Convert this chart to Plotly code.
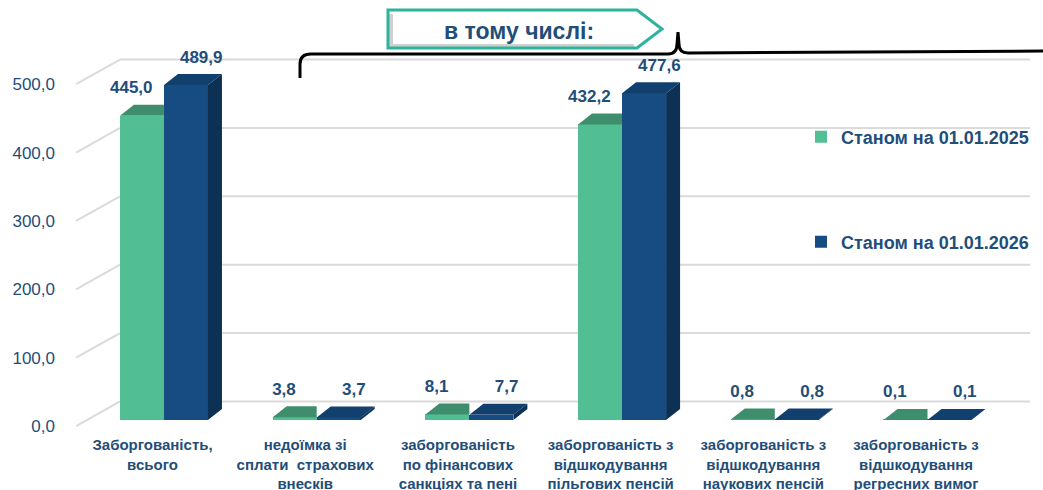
import plotly.graph_objects as go

# ---------------- data ----------------
categories = [
    "Заборгованість,<br>всього",
    "недоїмка зі<br>сплати  страхових<br>внесків",
    "заборгованість<br>по фінансових<br>санкціях та пені",
    "заборгованість з<br>відшкодування<br>пільгових пенсій",
    "заборгованість з<br>відшкодування<br>наукових пенсій",
    "заборгованість з<br>відшкодування<br>регресних вимог",
]
series_names = ["Станом на 01.01.2025", "Станом на 01.01.2026"]
values_2025 = [445.0, 3.8, 8.1, 432.2, 0.8, 0.1]
values_2026 = [489.9, 3.7, 7.7, 477.6, 0.8, 0.1]
y_ticks = [0, 100, 200, 300, 400, 500]
y_tick_labels = ["0,0", "100,0", "200,0", "300,0", "400,0", "500,0"]
banner_text = "в тому числі:"

# ---------------- style / geometry ----------------
W, H = 1043, 490
PL, PR, PT, PB = 76, 1035, 37, 435          # plot area in pixels
XR = [-0.576, 5.704]
YR = [-22, 560]
GREEN, GREEN_TOP = "#52BE93", "#3E8D6D"
BLUE, BLUE_TOP, BLUE_SIDE = "#174C82", "#12406E", "#0D3055"
TXT = "#1F4E79"
FONT = "Liberation Sans, Arial, sans-serif"

ux = (PR - PL) / (XR[1] - XR[0])   # px per x unit
uy = (PB - PT) / (YR[1] - YR[0])   # px per y unit
BW = 44 / ux                        # bar width
DX = 14 / ux                        # depth offset x
DY = 11 / uy                        # depth offset y


def xp(px):
    return (px - PL) / (PR - PL)


def yp(py):
    return (PB - py) / (PB - PT)


def fmt(v):
    return f"{v:.1f}".replace(".", ",")


idx = list(range(len(categories)))
fig = go.Figure()

# front faces
fig.add_trace(go.Bar(
    x=[i - BW / 2 for i in idx], y=values_2025, width=BW,
    marker=dict(color=GREEN, line=dict(width=0)),
    name=series_names[0], legend="legend", hoverinfo="skip"))
fig.add_trace(go.Bar(
    x=[i + BW / 2 for i in idx], y=values_2026, width=BW,
    marker=dict(color=BLUE, line=dict(width=0)),
    name=series_names[1], legend="legend2", hoverinfo="skip"))

# 3D faces
for i, (g, b) in enumerate(zip(values_2025, values_2026)):
    x0g, x1g = i - BW, i
    x0b, x1b = i, i + BW
    # green top (right part hidden behind blue)
    fig.add_trace(go.Scatter(
        x=[x0g, x1g, x1g, x0g + DX, x0g], y=[g, g, g + DY, g + DY, g],
        fill="toself", fillcolor=GREEN_TOP, mode="lines", line=dict(width=0),
        showlegend=False, hoverinfo="skip"))
    # blue top
    fig.add_trace(go.Scatter(
        x=[x0b, x1b, x1b + DX, x0b + DX, x0b], y=[b, b, b + DY, b + DY, b],
        fill="toself", fillcolor=BLUE_TOP, mode="lines", line=dict(width=0),
        showlegend=False, hoverinfo="skip"))
    # blue side
    fig.add_trace(go.Scatter(
        x=[x1b, x1b, x1b + DX, x1b + DX, x1b], y=[0, b, b + DY, DY, 0],
        fill="toself", fillcolor=BLUE_SIDE, mode="lines", line=dict(width=0),
        showlegend=False, hoverinfo="skip"))

# data labels
fig.add_trace(go.Scatter(
    x=[i - BW / 2 - 0.07 for i in idx], y=[v + 39 for v in values_2025],
    mode="text", text=[fmt(v) for v in values_2025],
    textfont=dict(family=FONT, size=17, color=TXT, weight="bold"),
    showlegend=False, hoverinfo="skip", cliponaxis=False))
fig.add_trace(go.Scatter(
    x=[i + BW / 2 + 0.1 for i in idx], y=[v + 39 for v in values_2026],
    mode="text", text=[fmt(v) for v in values_2026],
    textfont=dict(family=FONT, size=17, color=TXT, weight="bold"),
    showlegend=False, hoverinfo="skip", cliponaxis=False))

# back-wall gridlines (perspective)
shapes = []
x_front, x_back, x_end = XR[0], (120 - PL) / ux + XR[0], (1030 - PL) / ux + XR[0]
for v in y_ticks:
    shapes.append(dict(type="line", xref="x", yref="y", layer="below",
                       x0=x_front, y0=v - 9, x1=x_back, y1=v + 27,
                       line=dict(color="#DADADA", width=2)))
    shapes.append(dict(type="line", xref="x", yref="y", layer="below",
                       x0=x_back, y0=v + 27, x1=x_end, y1=v + 27,
                       line=dict(color="#DADADA", width=2)))

# banner (arrow box)
def P(px, py):
    return f"{xp(px):.5f},{yp(py):.5f}"

shapes.append(dict(type="path", xref="paper", yref="paper", layer="above",
                   path=f"M{P(391, 14)} L{P(391, 46)} L{P(634, 46)}",
                   line=dict(color="rgba(150,150,150,0.45)", width=4)))
shapes.append(dict(type="path", xref="paper", yref="paper", layer="above",
                   path=f"M{P(388, 10)} L{P(637, 10)} L{P(662, 29)} L{P(637, 48)} L{P(388, 48)} Z",
                   line=dict(color="#2DB39C", width=3)))
# curly brace
shapes.append(dict(type="path", xref="paper", yref="paper", layer="above",
                   path=(f"M{P(300, 78)} L{P(300, 64)} Q{P(300, 54)} {P(311, 54)} "
                         f"L{P(668, 54)} Q{P(677, 54)} {P(677, 44)} L{P(678, 32)} "
                         f"L{P(679, 44)} Q{P(679, 53)} {P(688, 53)} L{P(1043, 51)}"),
                   line=dict(color="#000000", width=3)))

fig.add_annotation(xref="paper", yref="paper", x=xp(519), y=yp(31),
                   text=banner_text, showarrow=False,
                   font=dict(family=FONT, size=23, color=TXT, weight="bold"),
                   xanchor="center", yanchor="middle")

legend_common = dict(xanchor="left", yanchor="middle", bgcolor="rgba(0,0,0,0)",
                     font=dict(family=FONT, size=18, color=TXT, weight="bold"),
                     itemclick=False, itemdoubleclick=False)

fig.update_layout(
    width=W, height=H,
    margin=dict(l=PL, r=W - PR, t=PT, b=H - PB, autoexpand=False),
    paper_bgcolor="white", plot_bgcolor="white",
    barmode="overlay", bargap=0,
    shapes=shapes,
    legend=dict(x=xp(801), y=yp(137), **legend_common),
    legend2=dict(x=xp(801), y=yp(242), **legend_common),
    xaxis=dict(range=XR, showgrid=False, zeroline=False, showline=False,
               tickvals=[i - 0.075 for i in idx], ticktext=categories,
               ticks="", tickfont=dict(family=FONT, size=15, color=TXT, weight="bold"),
               ticklabelstandoff=-1,
               fixedrange=True, automargin=False),
    yaxis=dict(range=YR, showgrid=False, zeroline=False, showline=False,
               tickvals=[v - 9 for v in y_ticks], ticktext=y_tick_labels,
               ticks="", ticklabelstandoff=20,
               tickfont=dict(family=FONT, size=17, color=TXT),
               fixedrange=True, automargin=False),
    hovermode=False,
)

fig.write_html("out.html", config={"displayModeBar": False},
               post_script="document.body.style.margin='0px';")
